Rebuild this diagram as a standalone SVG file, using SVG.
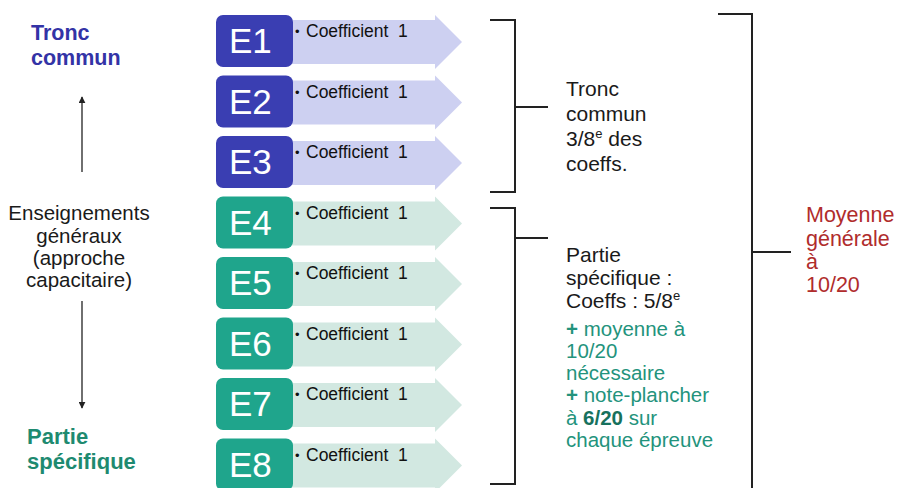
<svg xmlns="http://www.w3.org/2000/svg" width="900" height="488" viewBox="0 0 900 488">
<defs>
<style>
text{font-family:"Liberation Sans",Arial,sans-serif}
.box-b{fill:#3a3eb2}
.box-g{fill:#1fa58c}
.arr-b{fill:#cdd0f1}
.arr-g{fill:#d2e8e1}
.e{fill:#fff;font-size:35px}
.co{fill:#111;font-size:17.5px}
.bul{fill:#111;font-size:13px}
.blk{fill:#1a1a1a;font-size:21px}
.grn{fill:#23937c;font-size:20.5px}
.red{fill:#b02c2c;font-size:21.5px}
.brk{fill:none;stroke:#222;stroke-width:2}
.ln{stroke:#222;stroke-width:1.3}
</style>
<marker id="ah" viewBox="0 0 10 10" refX="9" refY="5" markerWidth="7" markerHeight="7" orient="auto-start-reverse" markerUnits="userSpaceOnUse">
<path d="M0,0 L10,5 L0,10 Z" fill="#222"/>
</marker>
<path id="arrow" d="M280,5 H435 V0 L462,27 L435,54 V49 H280 Z"/>
</defs>
<rect width="900" height="488" fill="#fff"/>

<g id="label-tronc">
<text x="31" y="40" font-weight="bold" font-size="21.5" fill="#3333a6">Tronc</text>
<text x="31" y="65" font-weight="bold" font-size="21.5" fill="#3333a6">commun</text>
</g>
<g id="label-enseignements" text-anchor="middle" fill="#1a1a1a" font-size="20.5">
<text x="79" y="220">Enseignements</text>
<text x="79" y="243">généraux</text>
<text x="79" y="265">(approche</text>
<text x="79" y="287">capacitaire)</text>
</g>
<g id="label-partie">
<text x="27" y="444" font-weight="bold" font-size="22" fill="#1e8a70">Partie</text>
<text x="27" y="469" font-weight="bold" font-size="22" fill="#1e8a70">spécifique</text>
</g>

<g id="row-E1" transform="translate(0,15)">
<use href="#arrow" class="arr-b"/>
<rect x="216" y="0" width="77" height="52" rx="7" class="box-b"/>
<text x="229" y="38" class="e">E1</text>
<text x="295" y="21" class="bul">•</text><text x="306" y="22" class="co" xml:space="preserve">Coefficient  1</text>
</g>
<g id="row-E2" transform="translate(0,75.5)">
<use href="#arrow" class="arr-b"/>
<rect x="216" y="0" width="77" height="52" rx="7" class="box-b"/>
<text x="229" y="38" class="e">E2</text>
<text x="295" y="21" class="bul">•</text><text x="306" y="22" class="co" xml:space="preserve">Coefficient  1</text>
</g>
<g id="row-E3" transform="translate(0,136)">
<use href="#arrow" class="arr-b"/>
<rect x="216" y="0" width="77" height="52" rx="7" class="box-b"/>
<text x="229" y="38" class="e">E3</text>
<text x="295" y="21" class="bul">•</text><text x="306" y="22" class="co" xml:space="preserve">Coefficient  1</text>
</g>
<g id="row-E4" transform="translate(0,196.5)">
<use href="#arrow" class="arr-g"/>
<rect x="216" y="0" width="77" height="52" rx="7" class="box-g"/>
<text x="229" y="38" class="e">E4</text>
<text x="295" y="21" class="bul">•</text><text x="306" y="22" class="co" xml:space="preserve">Coefficient  1</text>
</g>
<g id="row-E5" transform="translate(0,257)">
<use href="#arrow" class="arr-g"/>
<rect x="216" y="0" width="77" height="52" rx="7" class="box-g"/>
<text x="229" y="38" class="e">E5</text>
<text x="295" y="21" class="bul">•</text><text x="306" y="22" class="co" xml:space="preserve">Coefficient  1</text>
</g>
<g id="row-E6" transform="translate(0,317.5)">
<use href="#arrow" class="arr-g"/>
<rect x="216" y="0" width="77" height="52" rx="7" class="box-g"/>
<text x="229" y="38" class="e">E6</text>
<text x="295" y="21" class="bul">•</text><text x="306" y="22" class="co" xml:space="preserve">Coefficient  1</text>
</g>
<g id="row-E7" transform="translate(0,378)">
<use href="#arrow" class="arr-g"/>
<rect x="216" y="0" width="77" height="52" rx="7" class="box-g"/>
<text x="229" y="38" class="e">E7</text>
<text x="295" y="21" class="bul">•</text><text x="306" y="22" class="co" xml:space="preserve">Coefficient  1</text>
</g>
<g id="row-E8" transform="translate(0,438.5)">
<use href="#arrow" class="arr-g"/>
<rect x="216" y="0" width="77" height="52" rx="7" class="box-g"/>
<text x="229" y="38" class="e">E8</text>
<text x="295" y="21" class="bul">•</text><text x="306" y="22" class="co" xml:space="preserve">Coefficient  1</text>
</g>

<g id="tronc-summary">
<text x="566" y="96" class="blk">Tronc</text>
<text x="566" y="121" class="blk">commun</text>
<text x="566" y="146" class="blk">3/8<tspan font-size="13" dy="-8">e</tspan><tspan dy="8"> des</tspan></text>
<text x="566" y="171" class="blk">coeffs.</text>
</g>
<g id="partie-summary">
<text x="566" y="262" class="blk">Partie</text>
<text x="566" y="285" class="blk">spécifique :</text>
<text x="566" y="308" class="blk">Coeffs : 5/8<tspan font-size="13" dy="-8">e</tspan></text>
<text x="566" y="336" class="grn"><tspan font-weight="bold">+</tspan> moyenne à</text>
<text x="566" y="358" class="grn">10/20</text>
<text x="566" y="380" class="grn">nécessaire</text>
<text x="566" y="402" class="grn"><tspan font-weight="bold">+</tspan> note-plancher</text>
<text x="566" y="425" class="grn">à <tspan font-weight="bold" fill="#17715d">6/20</tspan> sur</text>
<text x="566" y="447" class="grn">chaque épreuve</text>
</g>
<g id="moyenne">
<text x="806" y="222" class="red">Moyenne</text>
<text x="806" y="246" class="red">générale</text>
<text x="806" y="269" class="red">à</text>
<text x="806" y="292" class="red">10/20</text>
</g>

<g id="connectors">
<line x1="82" y1="172" x2="82" y2="97" class="ln" marker-end="url(#ah)"/>
<line x1="82" y1="301" x2="82" y2="408" class="ln" marker-end="url(#ah)"/>
<path d="M490,20 H515 V192 H490 M515,107 H548" class="brk"/>
<path d="M490,208 H515 V484 H490 M515,238 H548" class="brk"/>
<path d="M718,14 H752 V488 M752,252 H791" class="brk"/>
</g>
</svg>
